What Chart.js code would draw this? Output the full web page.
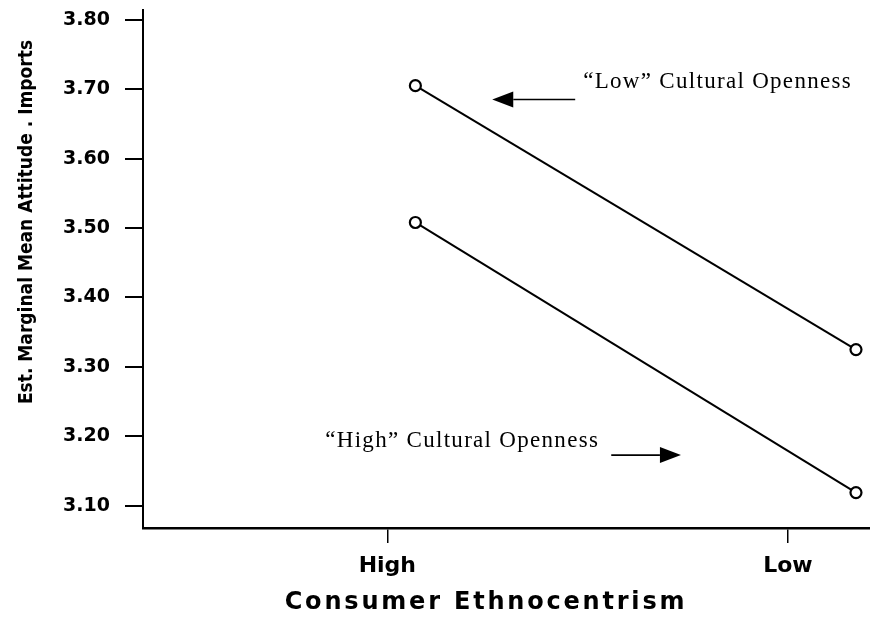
<!DOCTYPE html>
<html>
<head>
<meta charset="utf-8">
<title>Consumer Ethnocentrism</title>
<script src="https://cdn.jsdelivr.net/npm/chart.js@4.4.1/dist/chart.umd.min.js"></script>
<style>
  html, body { margin: 0; padding: 0; background: #fff; }
  #wrap { width: 870px; height: 620px; }
</style>
</head>
<body>
<div id="wrap"><canvas id="chart" width="870" height="620"></canvas></div>
<script>
// Consumer ethnocentrism level (x) and where each category sits on the axis
const categories = ['High', 'Low']
const categoryTicks = [1, 2]
// points are drawn a little right of the category ticks, as in the original figure
const pointX = [1.07, 2.17]

// estimated marginal mean attitude toward imports
const lowOpenness = [3.705, 3.325]
const highOpenness = [3.508, 3.119]

const yTicks = [3.1, 3.2, 3.3, 3.4, 3.5, 3.6, 3.7, 3.8]

const yTitle = 'Est. Marginal Mean Attitude . Imports'
const xTitle = 'Consumer Ethnocentrism'

// labels with arrows, placed in data coordinates
const notes = [
  { text: '\u201CLow\u201D Cultural Openness', x: 1.489, y: 3.711, arrowFrom: 1.469, arrowTo: 1.262, arrowY: 3.685 },
  { text: '\u201CHigh\u201D Cultural Openness', x: 0.845, y: 3.194, arrowFrom: 1.559, arrowTo: 1.733, arrowY: 3.173 }
]

const toPoints = (values) => pointX.map((x, i) => ({ x: x, y: values[i] }))

const seriesStyle = {
  borderColor: '#000',
  borderWidth: 2,
  pointRadius: 5.5,
  pointBorderWidth: 2.2,
  pointBorderColor: '#000',
  pointBackgroundColor: '#fff',
  clip: false,
  tension: 0
}

const annotationPlugin = {
  id: 'annotations',
  afterDraw(chart) {
    const ctx = chart.ctx
    const xs = chart.scales.x
    const ys = chart.scales.y

    ctx.save()
    ctx.fillStyle = '#000'
    ctx.strokeStyle = '#000'

    // notes + arrows
    notes.forEach(note => {
      ctx.font = '23px "Liberation Serif", "Times New Roman", serif'
      ctx.letterSpacing = '1.3px'
      ctx.textAlign = 'left'
      ctx.textBaseline = 'middle'
      ctx.fillText(note.text, xs.getPixelForValue(note.x), ys.getPixelForValue(note.y))

      const x0 = xs.getPixelForValue(note.arrowFrom)
      const x1 = xs.getPixelForValue(note.arrowTo)
      const y = ys.getPixelForValue(note.arrowY)
      const dir = Math.sign(x1 - x0)
      const head = 21
      ctx.lineWidth = 1.6
      ctx.beginPath()
      ctx.moveTo(x0, y)
      ctx.lineTo(x1 - dir * head, y)
      ctx.stroke()
      ctx.beginPath()
      ctx.moveTo(x1, y)
      ctx.lineTo(x1 - dir * head, y - 8)
      ctx.lineTo(x1 - dir * head, y + 8)
      ctx.closePath()
      ctx.fill()
    })

    // axis titles
    ctx.letterSpacing = '0px'
    ctx.font = 'bold 19px "DejaVu Sans Condensed", "DejaVu Sans", sans-serif'
    ctx.textAlign = 'center'
    ctx.textBaseline = 'middle'
    ctx.save()
    ctx.translate(27, 222)
    ctx.rotate(-Math.PI / 2)
    ctx.fillText(yTitle, 0, 0)
    ctx.restore()

    ctx.font = 'bold 24px "DejaVu Sans", sans-serif'
    ctx.letterSpacing = '2.8px'
    ctx.fillText(xTitle, 486, 603)
    ctx.restore()
  }
}

const config = {
  type: 'line',
  data: {
    datasets: [
      Object.assign({ label: '"Low" Cultural Openness', data: toPoints(lowOpenness) }, seriesStyle),
      Object.assign({ label: '"High" Cultural Openness', data: toPoints(highOpenness) }, seriesStyle)
    ]
  },
  options: {
    responsive: false,
    animation: false,
    devicePixelRatio: 1,
    layout: { autoPadding: false, padding: { top: 10, left: 0, right: 0, bottom: 0 } },
    plugins: {
      legend: { display: false },
      tooltip: { enabled: false }
    },
    scales: {
      x: {
        type: 'linear',
        min: 0.39,
        max: 2.205,
        afterBuildTicks: (scale) => {
          scale.ticks = categoryTicks.map(v => ({ value: v }))
        },
        afterFit: (scale) => {
          scale.height = 92
          scale.paddingLeft = 0
          scale.paddingRight = 0
        },
        ticks: {
          color: '#000',
          padding: 10,
          maxRotation: 0,
          font: { family: '"DejaVu Sans", sans-serif', size: 22, weight: 'bold' },
          callback: (value) => {
            const i = categoryTicks.indexOf(value)
            return i >= 0 ? categories[i] : ''
          }
        },
        grid: { display: true, drawOnChartArea: false, tickLength: 15, color: '#000', lineWidth: 1.5 },
        border: { display: true, color: '#000', width: 2.5 }
      },
      y: {
        type: 'linear',
        min: 3.068,
        max: 3.814,
        afterBuildTicks: (scale) => {
          scale.ticks = yTicks.map(v => ({ value: v }))
        },
        afterFit: (scale) => {
          scale.width = 143
          scale.paddingTop = 0
          scale.paddingBottom = 0
        },
        ticks: {
          color: '#000',
          padding: 15,
          font: { family: '"DejaVu Sans", sans-serif', size: 19, weight: 'bold' },
          callback: (value) => Number(value).toFixed(2)
        },
        grid: { display: true, drawOnChartArea: false, tickLength: 18, color: '#000', lineWidth: 2 },
        border: { display: true, color: '#000', width: 2 }
      }
    }
  },
  plugins: [annotationPlugin]
}

document.addEventListener('DOMContentLoaded', () => {
  window.chart = new Chart(document.getElementById('chart'), config)
})
</script>
</body>
</html>
